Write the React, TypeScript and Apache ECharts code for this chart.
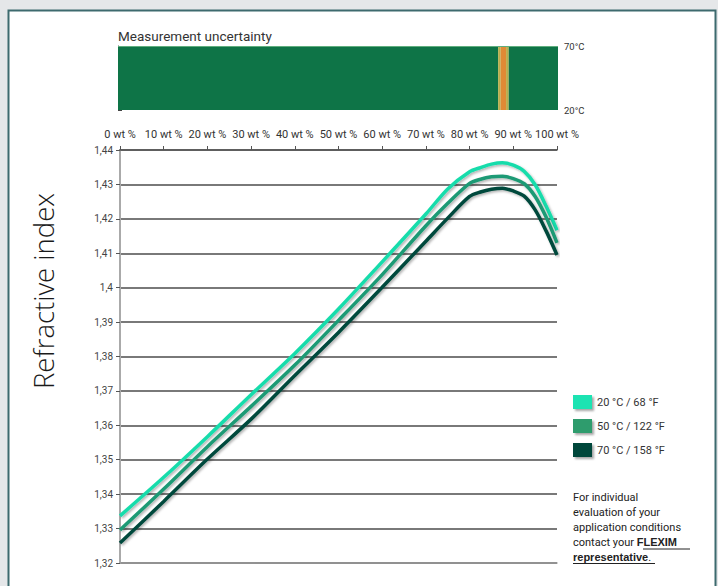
import React, { useEffect, useRef } from "react";
import * as echarts from "echarts";

const wtPercent = [0, 10, 20, 30, 40, 50, 60, 70, 75, 80, 82.5, 85, 87.5, 90, 92.5, 95, 97.5, 100];
const n20 = [1.3337, 1.3449, 1.3567, 1.3689, 1.3809, 1.3938, 1.4075, 1.4214, 1.4287, 1.4337, 1.4349, 1.4359, 1.4363, 1.4356, 1.4338, 1.4299, 1.4237, 1.4167];
const n50 = [1.3296, 1.3415, 1.3538, 1.3655, 1.3775, 1.3905, 1.4038, 1.418, 1.4245, 1.4303, 1.4315, 1.4322, 1.4324, 1.4317, 1.4302, 1.4265, 1.4205, 1.413];
const n70 = [1.3258, 1.3379, 1.3502, 1.3618, 1.3745, 1.387, 1.4001, 1.4135, 1.4202, 1.4265, 1.4278, 1.4286, 1.4289, 1.4281, 1.4266, 1.4226, 1.4165, 1.4095];
const seriesNames = ["20 °C / 68 °F", "50 °C / 122 °F", "70 °C / 158 °F"];
const seriesColors = ["#19dcab", "#1f9a74", "#064a3c"];
const legendColors = ["#1ee3b2", "#2e9c6d", "#00463a"];

// measurement uncertainty strip
const bandStart = [0, 86.4, 86.98, 88.2, 88.8];
const bandEnd = [86.4, 86.98, 88.2, 88.8, 100];
const bandLevel = [0, 1, 2, 1, 0];
const bandColors = ["#0e7447", "#b9ad4c", "#e08a35"];
const stripTemps = [20, 70];

const FONT = "Roboto, 'DejaVu Sans', sans-serif";

export default function App() {
  const ref = useRef<HTMLDivElement>(null);
  useEffect(() => {
    if (!ref.current) return;
    const chart = echarts.init(ref.current, null, { renderer: "svg" });
    const mk = (vals: number[]) => wtPercent.map((w, i) => [w, vals[i]]);
    const allN = [n20, n50, n70];
    const option: any = {
      animation: false,
      backgroundColor: "#e5e7e9",
      textStyle: { fontFamily: FONT },
      graphic: [
        {
          type: "rect",
          z: -100,
          silent: true,
          shape: { x: 8.5, y: 10.5, width: 707, height: 600 },
          style: { fill: "#ffffff", stroke: "#3d6a6e", lineWidth: 2 },
        },
        {
          type: "rect",
          z: 10,
          silent: true,
          shape: { x: 118, y: 46, width: 440, height: 1 },
          style: { fill: "#5fae7e" },
        },
        {
          type: "text",
          x: 118,
          y: 36,
          style: {
            text: "Measurement uncertainty",
            font: `13.5px ${FONT}`,
            fill: "#333",
            textVerticalAlign: "middle",
          },
        },
        {
          type: "text",
          x: 43,
          y: 291,
          rotation: Math.PI / 2,
          style: {
            text: "Refractive index",
            font: `300 27.5px 'Open Sans', ${FONT}`,
            fill: "#1a1a1a",
            textAlign: "center",
            textVerticalAlign: "middle",
          },
        },
        {
          type: "text",
          x: 573,
          y: 489.5,
          style: {
            text:
              "For individual\nevaluation of your\napplication conditions\ncontact your {b|FLEXIM}\n{b|representative}.",
            font: `11px ${FONT}`,
            lineHeight: 15,
            fill: "#222",
            rich: { b: { fontWeight: "bold", fontSize: 11, lineHeight: 15, fill: "#222" } },
          },
        },
        {
          type: "line",
          shape: { x1: 643, y1: 549, x2: 690, y2: 549 },
          style: { stroke: "#222", lineWidth: 1 },
        },
        {
          type: "line",
          shape: { x1: 573, y1: 563.5, x2: 655, y2: 563.5 },
          style: { stroke: "#222", lineWidth: 1 },
        },
      ],
      grid: [
        { left: 120, right: 161, top: 150, bottom: 23 },
        { left: 118, right: 160, top: 46, height: 64 },
      ],
      legend: {
        orient: "vertical",
        left: 573,
        top: 395,
        padding: 0,
        itemWidth: 19,
        itemHeight: 14,
        itemGap: 10,
        icon: "rect",
        data: seriesNames,
        itemStyle: {
          shadowColor: "rgba(0,0,0,0.35)",
          shadowBlur: 2,
          shadowOffsetX: 2,
          shadowOffsetY: 2,
        },
        textStyle: { fontSize: 11, color: "#333", fontFamily: FONT },
      },
      xAxis: [
        {
          gridIndex: 0,
          type: "value",
          min: 0,
          max: 100,
          interval: 10,
          position: "top",
          axisLine: { show: true, lineStyle: { color: "#555", width: 1.5 } },
          axisTick: { show: true, inside: false, length: 4, lineStyle: { color: "#555" } },
          axisLabel: {
            formatter: (v: number) => `${v} wt %`,
            fontSize: 11,
            color: "#333",
            margin: 10,
            fontFamily: FONT,
          },
          splitLine: { show: false },
        },
        {
          gridIndex: 0,
          type: "value",
          min: 0,
          max: 100,
          position: "bottom",
          axisLine: { show: true, lineStyle: { color: "#9a9a9a", width: 1.5 } },
          axisTick: { show: false },
          axisLabel: { show: false },
          splitLine: { show: false },
        },
        {
          gridIndex: 1,
          type: "value",
          min: 0,
          max: 100,
          show: false,
        },
      ],
      yAxis: [
        {
          gridIndex: 0,
          type: "value",
          min: 1.32,
          max: 1.44,
          interval: 0.01,
          position: "left",
          axisLine: { show: true, lineStyle: { color: "#555", width: 1.5 } },
          axisTick: { show: true, length: 4, lineStyle: { color: "#555" } },
          axisLabel: {
            formatter: (v: number) => String(parseFloat(v.toFixed(2))).replace(".", ","),
            fontSize: 10,
            color: "#444",
            margin: 7,
            fontFamily: FONT,
          },
          splitLine: { show: true, lineStyle: { color: "#4d4d4d", width: 1.5 } },
        },
        {
          gridIndex: 0,
          type: "value",
          min: 1.32,
          max: 1.44,
          position: "right",
          axisLine: { show: true, lineStyle: { color: "#aaaaaa", width: 2 } },
          axisTick: { show: false },
          axisLabel: { show: false },
          splitLine: { show: false },
        },
        {
          gridIndex: 1,
          type: "value",
          min: stripTemps[0],
          max: stripTemps[1],
          interval: 25,
          position: "right",
          offset: 3,
          axisLine: { show: true, lineStyle: { color: "#444", width: 1 } },
          axisTick: { show: true, length: 4, lineStyle: { color: "#444" } },
          axisLabel: {
            formatter: (v: number) => (stripTemps.includes(v) ? `${v}°C` : ""),
            fontSize: 9.5,
            color: "#333",
            margin: 3,
            fontFamily: FONT,
          },
          splitLine: { show: false },
        },
      ],
      series: [
        {
          type: "custom",
          xAxisIndex: 2,
          yAxisIndex: 2,
          silent: true,
          data: bandStart.map((s, i) => [s, bandEnd[i], bandLevel[i]]),
          renderItem: (params: any, api: any) => {
            const p0 = api.coord([api.value(0), stripTemps[1]]);
            const p1 = api.coord([api.value(1), stripTemps[0]]);
            return {
              type: "rect",
              shape: { x: p0[0], y: p0[1], width: p1[0] - p0[0], height: p1[1] - p0[1] },
              style: { fill: bandColors[api.value(2)] },
            };
          },
        },
        ...seriesNames.map((name, i) => ({
          name,
          type: "line",
          xAxisIndex: 0,
          yAxisIndex: 0,
          data: mk(allN[i]),
          smooth: 0.3,
          symbol: "none",
          showSymbol: false,
          color: legendColors[i],
          itemStyle: { color: legendColors[i] },
          lineStyle: {
            color: seriesColors[i],
            width: 3.5,
            shadowColor: "rgba(0,0,0,0.3)",
            shadowBlur: 2,
            shadowOffsetX: 1.5,
            shadowOffsetY: 1.5,
          },
          z: 3,
        })),
      ],
    };
    chart.setOption(option);
    return () => chart.dispose();
  }, []);
  return (
    <div
      ref={ref}
      style={{ position: "fixed", left: 0, top: 0, width: 718, height: 586 }}
    />
  );
}
